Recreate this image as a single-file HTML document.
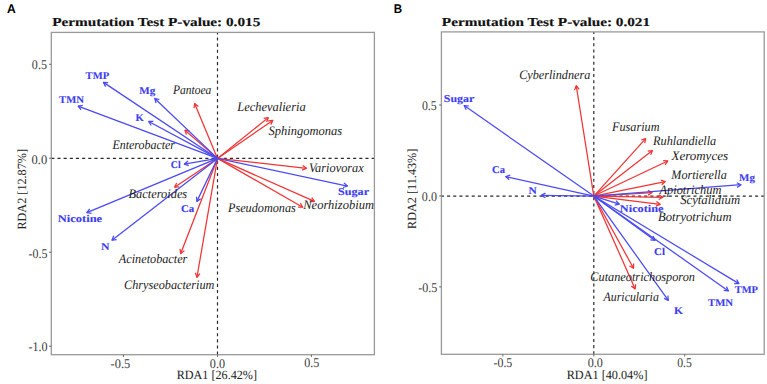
<!DOCTYPE html>
<html><head><meta charset="utf-8"><title>RDA biplots</title>
<style>
html,body{margin:0;padding:0;background:#fff;}
body{width:767px;height:384px;overflow:hidden;}
svg{display:block;}
text{font-family:"Liberation Serif",serif;text-rendering:geometricPrecision;}
.it{font-style:italic;fill:#1a1a1a;}
.bl{font-weight:bold;fill:#3c3cf0;stroke:#3c3cf0;stroke-width:0.12;}
.tt{font-weight:bold;fill:#111;stroke:#111;stroke-width:0.15;}
.pl{font-family:"Liberation Sans",sans-serif;font-weight:bold;fill:#000;}
.tk{fill:#3a3a3a;}
.ax{fill:#222;}
.ar line,.ar polyline{fill:none;stroke-width:1.25;stroke-linecap:butt;stroke-linejoin:round;}
.dash line{stroke:#2a2a2a;stroke-width:1.2;stroke-dasharray:3.08 3.08;}
.frame{fill:none;stroke:#999;stroke-width:1.3;}
.tick line{stroke:#6a6a6a;stroke-width:1.05;}
</style></head>
<body>
<svg width="767" height="384" viewBox="0 0 767 384">
<rect width="767" height="384" fill="#fff"/>
<g class="dash"><line x1="51.3" y1="158.4" x2="374.4" y2="158.4"/><line x1="217.5" y1="354.7" x2="217.5" y2="32.4"/></g>
<g class="dash"><line x1="440.9" y1="196.05" x2="764.2" y2="196.05"/><line x1="593.8" y1="354.3" x2="593.8" y2="31.9"/></g>
<g class="ar" stroke="#f03434"><line x1="217.5" y1="158.4" x2="194.63" y2="103.52"/><polyline points="194.03,108.18 194.63,103.52 198.37,106.38"/><line x1="217.5" y1="158.4" x2="184.96" y2="130.23"/><polyline points="186.5,134.67 184.96,130.23 189.58,131.12"/><line x1="217.5" y1="158.4" x2="268.33" y2="117.62"/><polyline points="263.68,118.33 268.33,117.62 266.62,122"/><line x1="217.5" y1="158.4" x2="272.81" y2="120.4"/><polyline points="268.13,120.77 272.81,120.4 270.79,124.64"/><line x1="217.5" y1="158.4" x2="306.55" y2="168.26"/><polyline points="302.77,165.48 306.55,168.26 302.25,170.15"/><line x1="217.5" y1="158.4" x2="314.48" y2="201.36"/><polyline points="311.71,197.56 314.48,201.36 309.81,201.86"/><line x1="217.5" y1="158.4" x2="302.7" y2="207.23"/><polyline points="300.33,203.16 302.7,207.23 298,207.24"/><line x1="217.5" y1="158.4" x2="174.59" y2="187.2"/><polyline points="179.28,186.89 174.59,187.2 176.66,182.99"/><line x1="217.5" y1="158.4" x2="180.73" y2="253.57"/><polyline points="184.39,250.62 180.73,253.57 180,248.93"/><line x1="217.5" y1="158.4" x2="196.96" y2="277.26"/><polyline points="199.97,273.64 196.96,277.26 195.34,272.84"/></g>
<g class="ar" stroke="#4a4af2"><line x1="217.5" y1="158.4" x2="103.49" y2="82.39"/><polyline points="105.57,86.61 103.49,82.39 108.18,82.7"/><line x1="217.5" y1="158.4" x2="78.13" y2="106.12"/><polyline points="81.11,109.75 78.13,106.12 82.76,105.35"/><line x1="217.5" y1="158.4" x2="154.75" y2="98.44"/><polyline points="156.07,102.95 154.75,98.44 159.32,99.55"/><line x1="217.5" y1="158.4" x2="148.71" y2="121.47"/><polyline points="151.18,125.46 148.71,121.47 153.41,121.32"/><line x1="217.5" y1="158.4" x2="184.35" y2="164.04"/><polyline points="188.75,165.68 184.35,164.04 187.96,161.04"/><line x1="217.5" y1="158.4" x2="86.82" y2="212.67"/><polyline points="91.48,213.28 86.82,212.67 89.68,208.93"/><line x1="217.5" y1="158.4" x2="111.98" y2="240.19"/><polyline points="116.63,239.55 111.98,240.19 113.75,235.83"/><line x1="217.5" y1="158.4" x2="196.85" y2="201.38"/><polyline points="200.73,198.73 196.85,201.38 196.5,196.7"/><line x1="217.5" y1="158.4" x2="347.46" y2="186.03"/><polyline points="343.96,182.88 347.46,186.03 342.99,187.48"/></g>
<g class="ar" stroke="#f03434"><line x1="593.8" y1="196.05" x2="576.25" y2="85.75"/><polyline points="574.57,90.13 576.25,85.75 579.22,89.4"/><line x1="593.8" y1="196.05" x2="645.67" y2="138.56"/><polyline points="641.19,140.01 645.67,138.56 644.68,143.16"/><line x1="593.8" y1="196.05" x2="652.42" y2="150.51"/><polyline points="647.77,151.16 652.42,150.51 650.65,154.87"/><line x1="593.8" y1="196.05" x2="667.78" y2="160.95"/><polyline points="663.1,160.57 667.78,160.95 665.11,164.82"/><line x1="593.8" y1="196.05" x2="665.26" y2="181.57"/><polyline points="660.8,180.07 665.26,181.57 661.73,184.68"/><line x1="593.8" y1="196.05" x2="652.05" y2="192.52"/><polyline points="647.85,190.42 652.05,192.52 648.13,195.11"/><line x1="593.8" y1="196.05" x2="662.85" y2="197.29"/><polyline points="658.82,194.87 662.85,197.29 658.74,199.57"/><line x1="593.8" y1="196.05" x2="660.15" y2="204.36"/><polyline points="656.41,201.52 660.15,204.36 655.82,206.18"/><line x1="593.8" y1="196.05" x2="633.53" y2="268.29"/><polyline points="633.63,263.59 633.53,268.29 629.51,265.86"/><line x1="593.8" y1="196.05" x2="635.16" y2="288.88"/><polyline points="635.65,284.21 635.16,288.88 631.35,286.12"/></g>
<g class="ar" stroke="#4a4af2"><line x1="593.8" y1="196.05" x2="464.19" y2="105.6"/><polyline points="466.18,109.86 464.19,105.6 468.87,106"/><line x1="593.8" y1="196.05" x2="505.74" y2="176.58"/><polyline points="509.21,179.75 505.74,176.58 510.22,175.16"/><line x1="593.8" y1="196.05" x2="541.35" y2="195.4"/><polyline points="545.39,197.8 541.35,195.4 545.45,193.1"/><line x1="593.8" y1="196.05" x2="741.05" y2="184.73"/><polyline points="736.81,182.7 741.05,184.73 737.17,187.38"/><line x1="593.8" y1="196.05" x2="619.27" y2="204.19"/><polyline points="616.11,200.72 619.27,204.19 614.67,205.19"/><line x1="593.8" y1="196.05" x2="655.02" y2="240.39"/><polyline points="653.1,236.1 655.02,240.39 650.34,239.91"/><line x1="593.8" y1="196.05" x2="668.3" y2="300.32"/><polyline points="667.84,295.64 668.3,300.32 664.02,298.37"/><line x1="593.8" y1="196.05" x2="738.9" y2="283.62"/><polyline points="736.63,279.5 738.9,283.62 734.2,283.53"/><line x1="593.8" y1="196.05" x2="728.41" y2="290.9"/><polyline points="726.44,286.63 728.41,290.9 723.73,290.48"/></g>
<rect class="frame" x="51.3" y="32.4" width="323.1" height="322.3"/><g class="tick"><line x1="49.1" y1="64.3" x2="51.3" y2="64.3"/><line x1="49.1" y1="158.2" x2="51.3" y2="158.2"/><line x1="49.1" y1="252.2" x2="51.3" y2="252.2"/><line x1="49.1" y1="346.2" x2="51.3" y2="346.2"/><line x1="123.4" y1="354.7" x2="123.4" y2="356.9"/><line x1="217.5" y1="354.7" x2="217.5" y2="356.9"/><line x1="311.5" y1="354.7" x2="311.5" y2="356.9"/></g>
<rect class="frame" x="441.4" y="31.9" width="322.8" height="322.4"/><g class="tick"><line x1="439.2" y1="105" x2="441.4" y2="105"/><line x1="439.2" y1="195.9" x2="441.4" y2="195.9"/><line x1="439.2" y1="286.9" x2="441.4" y2="286.9"/><line x1="502.8" y1="354.3" x2="502.8" y2="356.5"/><line x1="593.8" y1="354.3" x2="593.8" y2="356.5"/><line x1="684.7" y1="354.3" x2="684.7" y2="356.5"/></g>
<text id="t0" class="bl" x="85.55" y="79" font-size="10.4" textLength="23.6" lengthAdjust="spacingAndGlyphs">TMP</text>
<text id="t1" class="bl" x="59.07" y="103" font-size="10.4" textLength="24.87" lengthAdjust="spacingAndGlyphs">TMN</text>
<text id="t2" class="bl" x="139.32" y="94" font-size="10.4" textLength="16.02" lengthAdjust="spacingAndGlyphs">Mg</text>
<text id="t3" class="bl" x="135.63" y="121" font-size="10.4" textLength="8.31" lengthAdjust="spacingAndGlyphs">K</text>
<text id="t4" class="bl" x="170.84" y="168" font-size="10.4" textLength="9.81" lengthAdjust="spacingAndGlyphs">Cl</text>
<text id="t5" class="bl" x="57.82" y="222" font-size="10.4" textLength="44.31" lengthAdjust="spacingAndGlyphs">Nicotine</text>
<text id="t6" class="bl" x="101.09" y="250" font-size="10.4" textLength="8.51" lengthAdjust="spacingAndGlyphs">N</text>
<text id="t7" class="bl" x="181.05" y="212" font-size="10.4" textLength="13.25" lengthAdjust="spacingAndGlyphs">Ca</text>
<text id="t8" class="bl" x="338.09" y="195" font-size="10.4" textLength="30.93" lengthAdjust="spacingAndGlyphs">Sugar</text>
<text id="t9" class="it" x="173.02" y="94" font-size="13" textLength="38.36" lengthAdjust="spacingAndGlyphs">Pantoea</text>
<text id="t10" class="it" x="112.46" y="149" font-size="13" textLength="62.52" lengthAdjust="spacingAndGlyphs">Enterobacter</text>
<text id="t11" class="it" x="237.25" y="111" font-size="13" textLength="68.41" lengthAdjust="spacingAndGlyphs">Lechevalieria</text>
<text id="t12" class="it" x="268.56" y="135" font-size="13" textLength="73.48" lengthAdjust="spacingAndGlyphs">Sphingomonas</text>
<text id="t13" class="it" x="308.96" y="172" font-size="13" textLength="54.8" lengthAdjust="spacingAndGlyphs">Variovorax</text>
<text id="t14" class="it" x="303.25" y="209" font-size="13" textLength="70.67" lengthAdjust="spacingAndGlyphs">Neorhizobium</text>
<text id="t15" class="it" x="227.96" y="212" font-size="13" textLength="67.8" lengthAdjust="spacingAndGlyphs">Pseudomonas</text>
<text id="t16" class="it" x="128.57" y="198" font-size="13" textLength="58.64" lengthAdjust="spacingAndGlyphs">Bacteroides</text>
<text id="t17" class="it" x="118.83" y="263" font-size="13" textLength="68.52" lengthAdjust="spacingAndGlyphs">Acinetobacter</text>
<text id="t18" class="it" x="124.07" y="289" font-size="13" textLength="90.34" lengthAdjust="spacingAndGlyphs">Chryseobacterium</text>
<text id="t19" class="bl" x="443.85" y="102" font-size="10.4" textLength="30.45" lengthAdjust="spacingAndGlyphs">Sugar</text>
<text id="t20" class="bl" x="492.06" y="173" font-size="10.4" textLength="12.86" lengthAdjust="spacingAndGlyphs">Ca</text>
<text id="t21" class="bl" x="528.44" y="194" font-size="10.4" textLength="8.27" lengthAdjust="spacingAndGlyphs">N</text>
<text id="t22" class="bl" x="739.09" y="181" font-size="10.4" textLength="15.83" lengthAdjust="spacingAndGlyphs">Mg</text>
<text id="t23" class="bl" x="619.86" y="212" font-size="10.4" textLength="43.68" lengthAdjust="spacingAndGlyphs">Nicotine</text>
<text id="t24" class="bl" x="654.06" y="255" font-size="10.4" textLength="10.88" lengthAdjust="spacingAndGlyphs">Cl</text>
<text id="t25" class="bl" x="674" y="314" font-size="10.4" textLength="9.04" lengthAdjust="spacingAndGlyphs">K</text>
<text id="t26" class="bl" x="734.69" y="293" font-size="10.4" textLength="23.26" lengthAdjust="spacingAndGlyphs">TMP</text>
<text id="t27" class="bl" x="707.96" y="306" font-size="10.4" textLength="25.1" lengthAdjust="spacingAndGlyphs">TMN</text>
<text id="t28" class="it" x="519.18" y="79" font-size="13" textLength="71.11" lengthAdjust="spacingAndGlyphs">Cyberlindnera</text>
<text id="t29" class="it" x="612.08" y="131" font-size="13" textLength="47.35" lengthAdjust="spacingAndGlyphs">Fusarium</text>
<text id="t30" class="it" x="653.08" y="145" font-size="13" textLength="63.17" lengthAdjust="spacingAndGlyphs">Ruhlandiella</text>
<text id="t31" class="it" x="671.54" y="160" font-size="13" textLength="56.41" lengthAdjust="spacingAndGlyphs">Xeromyces</text>
<text id="t32" class="it" x="671.33" y="179" font-size="13" textLength="55.35" lengthAdjust="spacingAndGlyphs">Mortierella</text>
<text id="t33" class="it" x="659.5" y="194" font-size="13" textLength="61.83" lengthAdjust="spacingAndGlyphs">Apiotrichum</text>
<text id="t34" class="it" x="680.13" y="204" font-size="13" textLength="60.04" lengthAdjust="spacingAndGlyphs">Scytalidium</text>
<text id="t35" class="it" x="658.03" y="221" font-size="13" textLength="73.5" lengthAdjust="spacingAndGlyphs">Botryotrichum</text>
<text id="t36" class="it" x="590.36" y="281" font-size="13" textLength="104.57" lengthAdjust="spacingAndGlyphs">Cutaneotrichosporon</text>
<text id="t37" class="it" x="603.61" y="301" font-size="13" textLength="55.22" lengthAdjust="spacingAndGlyphs">Auricularia</text>
<text id="t38" class="tt" x="52.22" y="26" font-size="12.2" textLength="208.04" lengthAdjust="spacingAndGlyphs">Permutation Test P-value: 0.015</text>
<text id="t39" class="tt" x="441.86" y="26" font-size="12.2" textLength="208.23" lengthAdjust="spacingAndGlyphs">Permutation Test P-value: 0.021</text>
<text id="t40" class="pl" x="6.97" y="13" font-size="12.6" textLength="8.74" lengthAdjust="spacingAndGlyphs">A</text>
<text id="t41" class="pl" x="393.77" y="13" font-size="12.6" textLength="8.37" lengthAdjust="spacingAndGlyphs">B</text>
<text id="t42" class="tk" x="31.86" y="69" font-size="13.2" textLength="15.04" lengthAdjust="spacingAndGlyphs">0.5</text>
<text id="t43" class="tk" x="31.59" y="164" font-size="13.2" textLength="15.67" lengthAdjust="spacingAndGlyphs">0.0</text>
<text id="t44" class="tk" x="28.53" y="258" font-size="13.2" textLength="18.87" lengthAdjust="spacingAndGlyphs">-0.5</text>
<text id="t45" class="tk" x="28.44" y="351" font-size="13.2" textLength="19.11" lengthAdjust="spacingAndGlyphs">-1.0</text>
<text id="t46" class="tk" x="110.57" y="368" font-size="13.2" textLength="19.63" lengthAdjust="spacingAndGlyphs">-0.5</text>
<text id="t47" class="tk" x="209.8" y="368" font-size="13.2" textLength="15.2" lengthAdjust="spacingAndGlyphs">0.0</text>
<text id="t48" class="tk" x="304.17" y="367" font-size="13.2" textLength="15.05" lengthAdjust="spacingAndGlyphs">0.5</text>
<text id="t49" class="tk" x="421.89" y="110" font-size="13.2" textLength="14.76" lengthAdjust="spacingAndGlyphs">0.5</text>
<text id="t50" class="tk" x="421.86" y="201" font-size="13.2" textLength="15.04" lengthAdjust="spacingAndGlyphs">0.0</text>
<text id="t51" class="tk" x="418.28" y="292" font-size="13.2" textLength="19.12" lengthAdjust="spacingAndGlyphs">-0.5</text>
<text id="t52" class="tk" x="493.5" y="367" font-size="13.2" textLength="18.8" lengthAdjust="spacingAndGlyphs">-0.5</text>
<text id="t53" class="tk" x="587.66" y="367" font-size="13.2" textLength="15.14" lengthAdjust="spacingAndGlyphs">0.0</text>
<text id="t54" class="tk" x="677.17" y="367" font-size="13.2" textLength="14.65" lengthAdjust="spacingAndGlyphs">0.5</text>
<text id="t55" class="ax" x="176.69" y="379" font-size="12.5" textLength="80.29" lengthAdjust="spacingAndGlyphs">RDA1 [26.42%]</text>
<text id="t56" class="ax" x="566.66" y="379" font-size="12.5" textLength="80.84" lengthAdjust="spacingAndGlyphs">RDA1 [40.04%]</text>
<text id="r0" class="ax" x="0" y="0" font-size="12.5" transform="translate(26 229.57) rotate(-90)" textLength="80.61" lengthAdjust="spacingAndGlyphs">RDA2 [12.87%]</text>
<text id="r1" class="ax" x="0" y="0" font-size="12.5" transform="translate(416 228.97) rotate(-90)" textLength="80.34" lengthAdjust="spacingAndGlyphs">RDA2 [11.43%]</text>
</svg>
</body></html>
